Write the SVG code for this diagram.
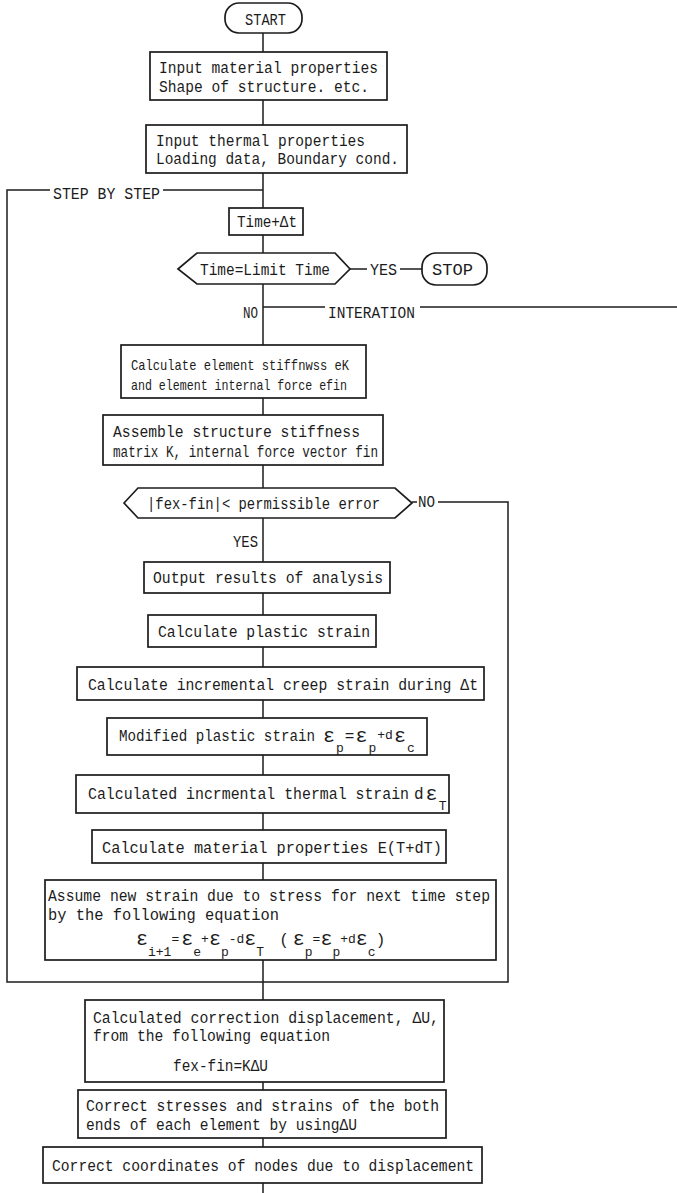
<svg xmlns="http://www.w3.org/2000/svg" width="677" height="1193" viewBox="0 0 677 1193">
<style>
.bg{fill:#fff}
.box{fill:#fff;stroke:#1c1c1c;stroke-width:1.7}
.ln{fill:none;stroke:#1c1c1c;stroke-width:1.5}
text{font-family:"Liberation Mono","DejaVu Sans Mono",monospace;font-size:16px;fill:#1c1c1c}
.sm{font-size:15px}
.eps{font-size:20px}
.sub{font-size:13px}
</style>
<rect class="bg" x="0" y="0" width="677" height="1193"/>
<g id="connectors">
<path class="ln" d="M263,33V52M263,100V125M263,173V208M263,235V253M263,284V345M263,398V415M263,465V488M263,518V562M263,593V615M263,647V667M263,700V718M263,755V775M263,813V830M263,863V880M263,960V1000M263,1082V1090M263,1138V1147M263,1183V1193"/>
<path class="ln" d="M263,190H163M50,190H7V982H508V502H438M417,502H412"/>
<path class="ln" d="M350,269H367M400,269H422"/>
<path class="ln" d="M263,307H325M420,307H677"/>
<text x="53" y="199" textLength="107" lengthAdjust="spacingAndGlyphs">STEP BY STEP</text>
<text x="370" y="275" textLength="27" lengthAdjust="spacingAndGlyphs">YES</text>
<text x="243" y="318" textLength="15" lengthAdjust="spacingAndGlyphs">NO</text>
<text x="328" y="318" textLength="87" lengthAdjust="spacingAndGlyphs">INTERATION</text>
<text x="233" y="547" textLength="25" lengthAdjust="spacingAndGlyphs">YES</text>
<text x="418" y="507" textLength="17" lengthAdjust="spacingAndGlyphs">NO</text>
</g>
<g id="start">
<rect class="box" x="225" y="3" width="77" height="30" rx="14"/>
<text x="245" y="25" textLength="41" lengthAdjust="spacingAndGlyphs">START</text>
</g>
<g id="input1">
<rect class="box" x="150" y="52" width="237" height="48"/>
<text x="159" y="73" textLength="219" lengthAdjust="spacingAndGlyphs">Input material properties</text>
<text x="159" y="92" textLength="210" lengthAdjust="spacingAndGlyphs">Shape of structure. etc.</text>
</g>
<g id="input2">
<rect class="box" x="146" y="125" width="261" height="48"/>
<text x="156" y="146" textLength="209" lengthAdjust="spacingAndGlyphs">Input thermal properties</text>
<text x="156" y="164" textLength="243" lengthAdjust="spacingAndGlyphs">Loading data, Boundary cond.</text>
</g>
<g id="time">
<rect class="box" x="229" y="208" width="74" height="27"/>
<text x="237" y="227" textLength="60" lengthAdjust="spacingAndGlyphs">Time+Δt</text>
</g>
<g id="limit">
<polygon class="box" points="178,269 197,253 335,253 350,269 335,284 197,284"/>
<text x="200" y="275" textLength="130" lengthAdjust="spacingAndGlyphs">Time=Limit Time</text>
</g>
<g id="stop">
<rect class="box" x="422" y="253" width="65" height="32" rx="14"/>
<text x="432" y="275" textLength="41" lengthAdjust="spacingAndGlyphs">STOP</text>
</g>
<g id="element">
<rect class="box" x="121" y="345" width="245" height="53"/>
<text class="sm" x="131" y="370" textLength="218" lengthAdjust="spacingAndGlyphs">Calculate element stiffnwss eK</text>
<text class="sm" x="131" y="390" textLength="216" lengthAdjust="spacingAndGlyphs">and element internal force efin</text>
</g>
<g id="assemble">
<rect class="box" x="103" y="415" width="280" height="50"/>
<text x="113" y="437" textLength="247" lengthAdjust="spacingAndGlyphs">Assemble structure stiffness</text>
<text x="113" y="457" textLength="265" lengthAdjust="spacingAndGlyphs">matrix K, internal force vector fin</text>
</g>
<g id="check">
<polygon class="box" points="124,503 138,488 395,488 412,503 395,518 138,518"/>
<text x="147" y="509" textLength="233" lengthAdjust="spacingAndGlyphs">|fex-fin|&lt; permissible error</text>
</g>
<g id="output">
<rect class="box" x="144" y="562" width="246" height="31"/>
<text x="153" y="583" textLength="230" lengthAdjust="spacingAndGlyphs">Output results of analysis</text>
</g>
<g id="plastic">
<rect class="box" x="148" y="615" width="228" height="32"/>
<text x="158" y="637" textLength="212" lengthAdjust="spacingAndGlyphs">Calculate plastic strain</text>
</g>
<g id="creep">
<rect class="box" x="77" y="667" width="407" height="33"/>
<text x="88" y="690" textLength="390" lengthAdjust="spacingAndGlyphs">Calculate incremental creep strain during Δt</text>
</g>
<g id="modified">
<rect class="box" x="107" y="718" width="320" height="37"/>
<text x="119" y="741" textLength="196" lengthAdjust="spacingAndGlyphs">Modified plastic strain</text>
<text x="323" y="742"><tspan class="eps">ε</tspan><tspan class="sub" dx="1" dy="10">p</tspan><tspan dx="1" dy="-11">=</tspan><tspan class="eps" dx="1" dy="1">ε</tspan><tspan class="sub" dx="1" dy="10">p</tspan><tspan class="sub" dx="1" dy="-13">+d</tspan><tspan class="eps" dx="1" dy="3">ε</tspan><tspan class="sub" dx="1" dy="10">c</tspan></text>
</g>
<g id="thermal">
<rect class="box" x="76" y="775" width="373" height="38"/>
<text x="88" y="799" textLength="321" lengthAdjust="spacingAndGlyphs">Calculated incrmental thermal strain</text>
<text x="414" y="799">d<tspan class="eps" dx="2" dy="1">ε</tspan><tspan class="sub" dx="1" dy="10">T</tspan></text>
</g>
<g id="material">
<rect class="box" x="92" y="830" width="354" height="33"/>
<text x="102" y="853" textLength="340" lengthAdjust="spacingAndGlyphs">Calculate material properties E(T+dT)</text>
</g>
<g id="assume">
<rect class="box" x="45" y="880" width="451" height="80"/>
<text x="48" y="901" textLength="442" lengthAdjust="spacingAndGlyphs">Assume new strain due to stress for next time step</text>
<text x="48" y="920" textLength="231" lengthAdjust="spacingAndGlyphs">by the following equation</text>
<text x="136" y="945"><tspan class="eps">ε</tspan><tspan class="sub" dy="11">i+1</tspan><tspan class="sub" dy="-13">=</tspan><tspan class="eps" dx="2" dy="2">ε</tspan><tspan class="sub" dy="11">e</tspan><tspan class="sub" dy="-13">+</tspan><tspan class="eps" dy="2">ε</tspan><tspan class="sub" dy="11">p</tspan><tspan class="sub" dy="-13">-d</tspan><tspan class="eps" dy="2">ε</tspan><tspan class="sub" dy="11">T</tspan><tspan dx="15" dy="-11">(</tspan><tspan class="eps" dx="4">ε</tspan><tspan class="sub" dy="11">p</tspan><tspan class="sub" dy="-13">=</tspan><tspan class="eps" dy="2">ε</tspan><tspan class="sub" dy="11">p</tspan><tspan class="sub" dy="-13">+d</tspan><tspan class="eps" dy="2">ε</tspan><tspan class="sub" dy="11">c</tspan><tspan dy="-11">)</tspan></text>
</g>
<g id="correction">
<rect class="box" x="85" y="1000" width="359" height="82"/>
<text x="93" y="1023" textLength="346" lengthAdjust="spacingAndGlyphs">Calculated correction displacement, ΔU,</text>
<text x="93" y="1041" textLength="237" lengthAdjust="spacingAndGlyphs">from the following equation</text>
<text x="173" y="1071" textLength="95" lengthAdjust="spacingAndGlyphs">fex-fin=KΔU</text>
</g>
<g id="stresses">
<rect class="box" x="78" y="1090" width="368" height="48"/>
<text x="86" y="1111" textLength="353" lengthAdjust="spacingAndGlyphs">Correct stresses and strains of the both</text>
<text x="86" y="1130" textLength="271" lengthAdjust="spacingAndGlyphs">ends of each element by usingΔU</text>
</g>
<g id="coords">
<rect class="box" x="43" y="1147" width="439" height="36"/>
<text x="52" y="1171" textLength="422" lengthAdjust="spacingAndGlyphs">Correct coordinates of nodes due to displacement</text>
</g>
</svg>
